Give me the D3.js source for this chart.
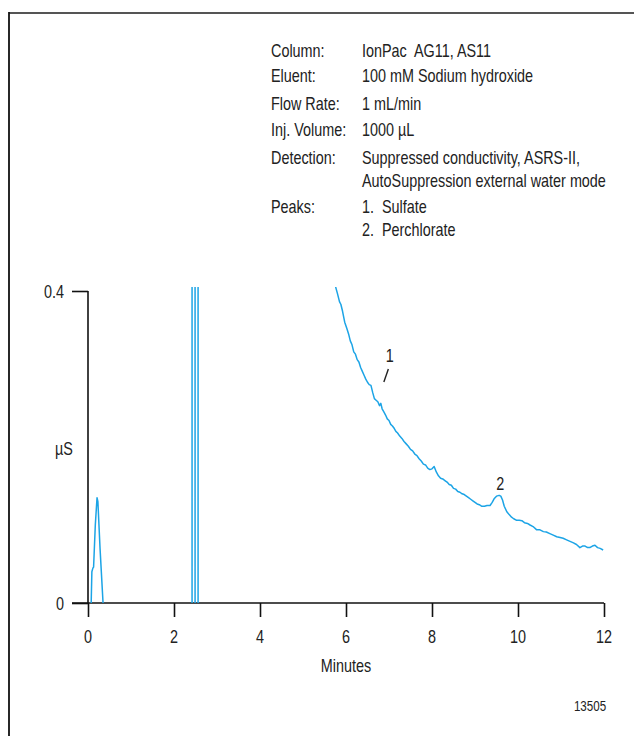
<!DOCTYPE html>
<html><head><meta charset="utf-8">
<script src="https://cdn.jsdelivr.net/npm/d3@7"></script>
<style>
html,body{margin:0;padding:0;background:#fff;}
svg{display:block;}
text{font-family:"Liberation Sans",Arial,sans-serif;fill:#222;white-space:pre;}
</style></head>
<body>
<script>
// ---- data ----
const xTicks = [0, 2, 4, 6, 8, 10, 12];
const yTicks = [0, 0.4];
const xTickLabels = ["0", "2", "4", "6", "8", "10", "12"];
const yTickLabels = ["0", "0.4"];
const infoLabels = ["Column:", "Eluent:", "Flow Rate:", "Inj. Volume:", "Detection:", "", "Peaks:", ""];
const infoValues = ["IonPac  AG11, AS11", "100 mM Sodium hydroxide", "1 mL/min", "1000 µL",
  "Suppressed conductivity, ASRS-II,", "AutoSuppression external water mode", "1.  Sulfate", "2.  Perchlorate"];
const peakLabels = [{name: "1", t: 7.02, v: 0.309, tick: true}, {name: "2", t: 9.59, v: 0.145, tick: false}];
// chromatogram trace: [minutes, µS]
const traceTime = [0, 0.07, 0.09, 0.115, 0.13, 0.17, 0.21, 0.23, 0.28, 0.36, 2.42, 2.42, 2.49, 2.49, 2.56, 2.56,
  5.5, 5.7, 5.76, 5.80, 5.85, 5.88, 5.92, 5.97, 6.02, 6.06, 6.10, 6.14, 6.18, 6.22, 6.26, 6.30, 6.34, 6.38, 6.42, 6.46,
  6.50, 6.54, 6.58, 6.62, 6.66, 6.70, 6.74, 6.78, 6.81, 6.84, 6.88, 6.92, 6.96, 7.00, 7.04, 7.08, 7.12, 7.16, 7.20,
  7.25, 7.30, 7.35, 7.40, 7.45, 7.50, 7.55, 7.60, 7.65, 7.70, 7.75, 7.80, 7.85, 7.90, 7.95, 8.00, 8.05, 8.10, 8.15,
  8.20, 8.25, 8.30, 8.35, 8.40, 8.45, 8.50, 8.55, 8.60, 8.65, 8.70, 8.75, 8.80, 8.85, 8.90, 8.95, 9.00, 9.05, 9.10,
  9.16, 9.22, 9.28, 9.35, 9.40, 9.45, 9.50, 9.56, 9.60, 9.64, 9.68, 9.74, 9.80, 9.85, 9.90, 9.97, 10.03, 10.09,
  10.15, 10.22, 10.28, 10.35, 10.43, 10.50, 10.59, 10.66, 10.74, 10.82, 10.90, 10.98, 11.05, 11.13, 11.21, 11.29,
  11.36, 11.44, 11.50, 11.56, 11.62, 11.67, 11.73, 11.79, 11.85, 11.91, 11.98];
const traceValue = [-0.01, -0.01, 0.040, 0.045, 0.046, 0.100, 0.135, 0.130, 0.070, -0.01, -0.01, 1.2, 1.2, -0.01, -0.01, 1.2,
  0.60, 0.44, 0.405, 0.397, 0.386, 0.383, 0.374, 0.360, 0.352, 0.345, 0.336, 0.331, 0.322, 0.319, 0.312, 0.309, 0.302, 0.297, 0.292, 0.287,
  0.283, 0.280, 0.279, 0.270, 0.262, 0.260, 0.258, 0.253, 0.256, 0.249, 0.245, 0.241, 0.236, 0.234, 0.229, 0.227, 0.224, 0.220, 0.218,
  0.214, 0.211, 0.207, 0.204, 0.201, 0.197, 0.195, 0.191, 0.189, 0.185, 0.182, 0.178, 0.177, 0.173, 0.171, 0.172, 0.175, 0.168, 0.163,
  0.160, 0.159, 0.157, 0.155, 0.152, 0.151, 0.147, 0.146, 0.143, 0.142, 0.140, 0.139, 0.137, 0.135, 0.133, 0.131, 0.129, 0.127, 0.126,
  0.124, 0.124, 0.125, 0.125, 0.129, 0.134, 0.137, 0.138, 0.137, 0.132, 0.124, 0.117, 0.113, 0.110, 0.108, 0.106, 0.106, 0.1055,
  0.103, 0.102, 0.100, 0.098, 0.094, 0.094, 0.0915, 0.091, 0.089, 0.087, 0.085, 0.084, 0.083, 0.081, 0.079, 0.077,
  0.075, 0.071, 0.073, 0.073, 0.071, 0.071, 0.073, 0.074, 0.071, 0.070, 0.068];

// ---- layout ----
const W = 634, H = 736;
const SX = 0.8; // condensed look
const svg = d3.select("body").append("svg").attr("width", W).attr("height", H);
const x = d3.scaleLinear().domain([0, 12]).range([88, 604]);
const y = d3.scaleLinear().domain([0, 0.4]).range([603, 291]);

function txt(g, px, py, s, size, anchor) {
  return g.append("text").attr("transform", `translate(${px},${py}) scale(${SX},1)`)
    .attr("xml:space", "preserve")
    .attr("text-anchor", anchor || "start").style("font-size", size + "px").text(s);
}

// frame
svg.append("line").attr("x1", 9).attr("x2", W).attr("y1", 13).attr("y2", 13).attr("stroke", "#555").attr("stroke-width", 2);
svg.append("line").attr("x1", 9).attr("x2", 9).attr("y1", 12).attr("y2", H).attr("stroke", "#111").attr("stroke-width", 1.8);

// info block
const info = svg.append("g");
const rowY = [57, 82, 110, 136, 164, 187, 213, 236];
infoLabels.forEach((l, i) => { if (l) txt(info, 271, rowY[i], l, 18); });
infoValues.forEach((v, i) => txt(info, 362, rowY[i], v, 18));

// axes
const xAxis = d3.axisBottom(x).tickValues(xTicks).tickFormat(() => "").tickSize(14);
const gx = svg.append("g").attr("transform", `translate(0,${y(0)})`).call(xAxis);
gx.select(".domain").remove();
gx.append("line").attr("x1", 72).attr("x2", x(12)).attr("stroke", "#111").attr("stroke-width", 1.6);
gx.selectAll(".tick line").attr("stroke", "#111").attr("stroke-width", 1.6);
xTicks.forEach((t, i) => txt(svg, x(t), 643, xTickLabels[i], 18, "middle"));

const yAxis = d3.axisLeft(y).tickValues(yTicks).tickFormat(() => "").tickSize(16);
const gy = svg.append("g").attr("transform", `translate(${x(0)},0)`).call(yAxis);
gy.select(".domain").remove();
gy.append("line").attr("y1", y(0.4)).attr("y2", y(0)).attr("stroke", "#111").attr("stroke-width", 1.6);
gy.selectAll(".tick line").attr("stroke", "#111").attr("stroke-width", 1.6);
yTicks.forEach((t, i) => txt(svg, 64, y(t) + 6.5, yTickLabels[i], 18, "end"));

txt(svg, 55, 455, "µS", 18);
txt(svg, x(6), 672, "Minutes", 18, "middle");
txt(svg, 590, 711, "13505", 14.5, "middle");

// trace
svg.append("clipPath").attr("id", "plotclip").append("rect")
  .attr("x", x(0)).attr("y", 287).attr("width", x(12) - x(0) + 4).attr("height", y(0) - 287);
const pts = traceTime.map((t, i) => [t, traceValue[i]]);
svg.append("path").datum(pts).attr("clip-path", "url(#plotclip)")
  .attr("d", d3.line().x(d => x(d[0])).y(d => y(d[1])))
  .attr("fill", "none").attr("stroke", "#1ca4e6").attr("stroke-width", 1.5).attr("stroke-linejoin", "round");

// peak labels
peakLabels.forEach(p => {
  txt(svg, x(p.t), y(p.v), p.name, 18, "middle");
  if (p.tick) {
    svg.append("line").attr("x1", x(p.t) - 6).attr("y1", y(p.v) + 20).attr("x2", x(p.t) - 1.5).attr("y2", y(p.v) + 7)
      .attr("stroke", "#222").attr("stroke-width", 1.4);
  }
});
</script>
</body></html>
